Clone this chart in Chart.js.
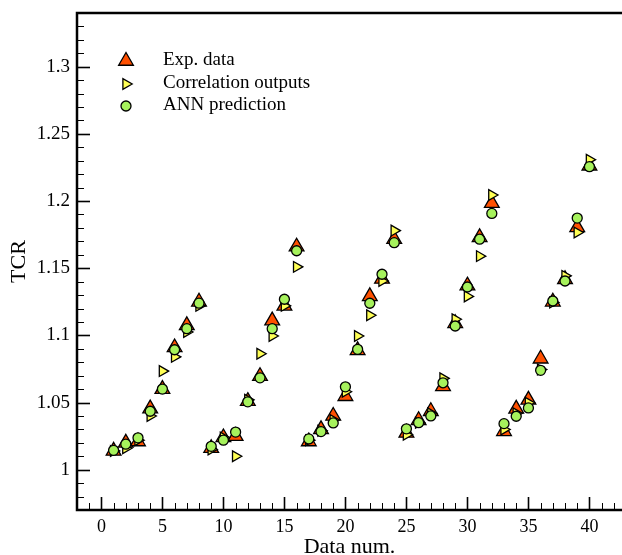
<!DOCTYPE html>
<html>
<head>
<meta charset="utf-8">
<title>TCR vs data number</title>
<script src="https://cdn.jsdelivr.net/npm/chart.js@4.4.1/dist/chart.umd.min.js"></script>
<style>
  html, body { margin: 0; padding: 0; background: #fff; }
  #tcrChart { display: block; }
</style>
</head>
<body>
<canvas id="tcrChart" width="622" height="555"></canvas>
<script>
/* ---------------- data ---------------- */
const dataNum = [1, 2, 3, 4, 5, 6, 7, 8, 9, 10, 11, 12, 13, 14, 15, 16, 17, 18, 19, 20,
  21, 22, 23, 24, 25, 26, 27, 28, 29, 30, 31, 32, 33, 34, 35, 36, 37, 38, 39, 40];

const expData = [1.014, 1.020, 1.021, 1.0455, 1.060, 1.091, 1.1075, 1.125,
  1.016, 1.024, 1.025, 1.051, 1.0696, 1.111, 1.122, 1.166,
  1.021, 1.030, 1.040, 1.0547, 1.0888, 1.129, 1.142, 1.1716,
  1.0274, 1.0368, 1.0435, 1.062, 1.109, 1.137, 1.173, 1.1985,
  1.0286, 1.0453, 1.052, 1.0826, 1.125, 1.1418, 1.1804, 1.2263];

const corrData = [1.014, 1.016, 1.022, 1.040, 1.0734, 1.084, 1.1025, 1.122,
  1.015, 1.024, 1.010, 1.052, 1.0863, 1.0995, 1.122, 1.151,
  1.022, 1.029, 1.037, 1.058, 1.0995, 1.115, 1.1405, 1.178,
  1.026, 1.035, 1.042, 1.068, 1.112, 1.129, 1.159, 1.2045,
  1.030, 1.042, 1.0498, 1.0746, 1.1245, 1.1443, 1.1766, 1.2308];

const annData = [1.0144, 1.019, 1.0237, 1.0435, 1.060, 1.0893, 1.105, 1.124,
  1.0174, 1.022, 1.028, 1.0505, 1.0684, 1.105, 1.1269, 1.163,
  1.0229, 1.0284, 1.0348, 1.0617, 1.0896, 1.1239, 1.1455, 1.169,
  1.0304, 1.035, 1.040, 1.0647, 1.107, 1.136, 1.1716, 1.1908,
  1.0343, 1.0398, 1.046, 1.074, 1.1256, 1.1405, 1.1873, 1.2256];

const seriesNames = ["Exp. data", "Correlation outputs", "ANN prediction"];

const SERIF = "'Liberation Serif', 'DejaVu Serif', serif";

// marker looks, shared by the datasets and the legend
const markers = [
  { pointStyle: "triangle", radius: 8.5, rotation: 0, fill: "#ff5000" },
  { pointStyle: "triangle", radius: 6.2, rotation: 90, fill: "#ffff55" },
  { pointStyle: "circle", radius: 5, rotation: 0, fill: "#a6f25c" },
];

const toPoints = (ys) => ys.map((y, i) => ({ x: dataNum[i], y }));

/* ---------------- frame, inward ticks, titles, legend ---------------- */
const framePlugin = {
  id: "frame",
  beforeDatasetsDraw(chart) {
    const { ctx, chartArea: a, scales } = chart;
    const xs = scales.x, ys = scales.y;
    ctx.save();
    ctx.strokeStyle = "#000";
    ctx.lineCap = "butt";

    // x ticks, every 1 unit, major every 5
    for (let v = -1; v <= 42; v++) {
      const px = Math.round(xs.getPixelForValue(v)) + 0.5;
      const major = v % 5 === 0;
      ctx.lineWidth = major ? 1.6 : 1;
      ctx.beginPath();
      ctx.moveTo(px, a.bottom);
      ctx.lineTo(px, a.bottom - (major ? 13 : 7));
      ctx.stroke();
    }
    // y ticks, every 0.01, major every 0.05
    for (let k = 98; k <= 133; k++) {
      const py = Math.round(ys.getPixelForValue(k / 100)) + 0.5;
      const major = k % 5 === 0;
      ctx.lineWidth = major ? 1.6 : 1;
      ctx.beginPath();
      ctx.moveTo(a.left, py);
      ctx.lineTo(a.left + (major ? 13 : 7), py);
      ctx.stroke();
    }

    // axis lines (left, bottom, top)
    ctx.lineWidth = 2.5;
    ctx.beginPath();
    ctx.moveTo(a.right + 2, a.top);
    ctx.lineTo(a.left, a.top);
    ctx.lineTo(a.left, a.bottom);
    ctx.lineTo(a.right + 2, a.bottom);
    ctx.stroke();

    // axis titles
    ctx.fillStyle = "#000";
    ctx.font = "22px " + SERIF;
    ctx.textAlign = "center";
    ctx.textBaseline = "alphabetic";
    ctx.fillText("Data num.", (a.left + a.right) / 2, 553);
    ctx.translate(25, (a.top + a.bottom) / 2);
    ctx.rotate(-Math.PI / 2);
    ctx.fillText("TCR", 0, 0);
    ctx.restore();

    // legend
    ctx.save();
    ctx.font = "19px " + SERIF;
    ctx.textAlign = "left";
    ctx.textBaseline = "middle";
    const rows = [60, 83, 105];
    markers.forEach((m, i) => {
      ctx.fillStyle = m.fill;
      ctx.strokeStyle = "#000";
      ctx.lineWidth = 1.3;
      Chart.helpers.drawPoint(ctx, {
        pointStyle: m.pointStyle, radius: m.radius, rotation: m.rotation, borderWidth: 1.3,
      }, 126, rows[i] + 1);
      ctx.fillStyle = "#000";
      ctx.fillText(seriesNames[i], 163, rows[i]);
    });
    ctx.restore();
  },
};

const makeSet = (i, ys, order) => ({
  label: seriesNames[i],
  data: toPoints(ys),
  showLine: false,
  order,
  pointStyle: markers[i].pointStyle,
  pointRadius: markers[i].radius,
  pointHoverRadius: markers[i].radius,
  pointRotation: markers[i].rotation,
  backgroundColor: markers[i].fill,
  borderColor: "#000",
  pointBorderWidth: 1.3,
});

new Chart(document.getElementById("tcrChart"), {
  type: "scatter",
  data: {
    datasets: [
      makeSet(0, expData, 3),
      makeSet(1, corrData, 2),
      makeSet(2, annData, 1),
    ],
  },
  options: {
    responsive: false,
    animation: false,
    events: [],
    layout: { autoPadding: false, padding: { top: 13, right: 0, left: 0, bottom: 0 } },
    plugins: { legend: { display: false }, tooltip: { enabled: false } },
    scales: {
      x: {
        type: "linear",
        min: -2,
        max: 42.67,
        grid: { display: false, drawTicks: false },
        border: { display: false },
        afterFit: (s) => { s.height = 45; s.paddingLeft = 0; s.paddingRight = 0; },
        ticks: {
          stepSize: 5,
          includeBounds: false,
          padding: 6,
          color: "#000",
          font: { family: SERIF, size: 18 },
          maxRotation: 0,
          callback: (v) => (v % 5 === 0 && v >= 0 && v <= 40 ? String(v) : ""),
        },
      },
      y: {
        type: "linear",
        min: 0.97,
        max: 1.34,
        grid: { display: false, drawTicks: false },
        border: { display: false },
        afterFit: (s) => { s.width = 77; s.paddingTop = 0; s.paddingBottom = 0; },
        ticks: {
          stepSize: 0.05,
          includeBounds: false,
          padding: 7,
          color: "#000",
          font: { family: SERIF, size: 19 },
          callback: (v) => String(+v.toFixed(2)),
        },
      },
    },
  },
  plugins: [framePlugin],
});
</script>
</body>
</html>
